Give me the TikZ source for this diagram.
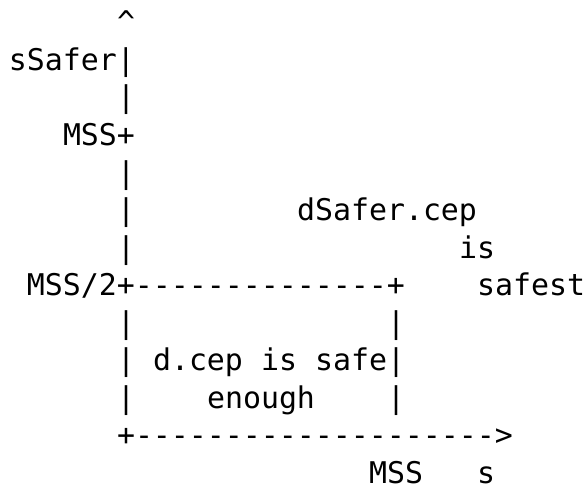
\documentclass[tikz,border=0pt]{standalone}
\usepackage{fontspec}
\setmonofont{DejaVu Sans Mono}
\newcommand\asciicell[4]{\node[txt] (#1) at ({9+18*#2},{33+37.5*#3}) {#4};}
\begin{document}
\begin{tikzpicture}[x=1pt,y=-1pt,
  txt/.style={anchor=base west, inner sep=0pt, outer sep=0pt, text depth=0pt,
    font=\ttfamily\fontsize{29.9}{37.5}\selectfont, text=black}]
\fill[white] (0,0) rectangle (587,487);
\useasboundingbox (0,0) rectangle (587,487);
% row 0
\asciicell{caret}{6}{0}{\textasciicircum}
% row 1
\asciicell{ssafer}{0}{1}{sSafer|}
% row 2
\asciicell{v2}{6}{2}{|}
% row 3
\asciicell{mss}{3}{3}{MSS+}
% row 4
\asciicell{v4}{6}{4}{|}
% row 5
\asciicell{v5}{6}{5}{|}
\asciicell{dsafer}{16}{5}{dSafer.cep}
% row 6
\asciicell{v6}{6}{6}{|}
\asciicell{is1}{25}{6}{is}
% row 7
\asciicell{msshalf}{1}{7}{MSS/2+--------------+}
\asciicell{safest}{26}{7}{safest}
% row 8
\asciicell{v8a}{6}{8}{|}
\asciicell{v8b}{21}{8}{|}
% row 9
\asciicell{v9}{6}{9}{|}
\asciicell{dcep}{8}{9}{d.cep}
\asciicell{is2}{14}{9}{is}
\asciicell{safe}{17}{9}{safe|}
% row 10
\asciicell{v10a}{6}{10}{|}
\asciicell{enough}{11}{10}{enough}
\asciicell{v10b}{21}{10}{|}
% row 11
\asciicell{xaxis}{6}{11}{+-------------------->}
% row 12
\asciicell{mssx}{20}{12}{MSS}
\asciicell{s}{26}{12}{s}
\end{tikzpicture}
\end{document}
